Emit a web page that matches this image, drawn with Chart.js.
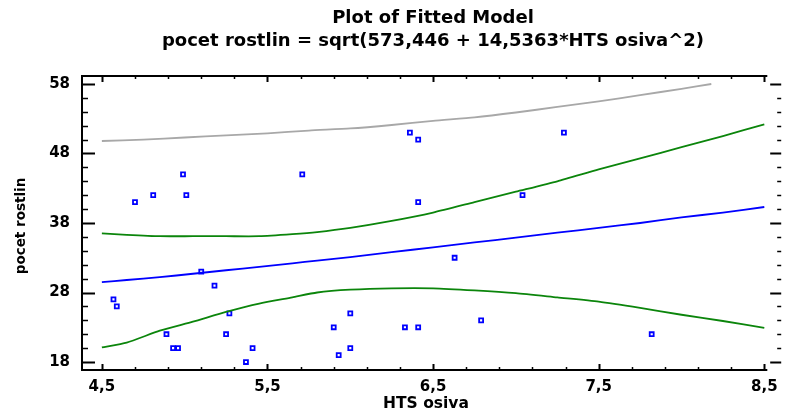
<!DOCTYPE html>
<html>
<head>
<meta charset="utf-8">
<script src="https://cdn.jsdelivr.net/npm/chart.js@4.4.1/dist/chart.umd.min.js"></script>
<style>
  html, body { margin: 0; padding: 0; background: #fff; }
  #plot { display: block; }
</style>
</head>
<body>
<canvas id="plot" width="787" height="414"></canvas>
<script>
const titleLines = ["Plot of Fitted Model", "pocet rostlin = sqrt(573,446 + 14,5363*HTS osiva^2)"];
const xLabel = "HTS osiva";
const yLabel = "pocet rostlin";

const xTicks = [4.5, 5.5, 6.5, 7.5, 8.5];
const yTicks = [18, 28, 38, 48, 58];

// observed points
const obsX = [4.70, 4.81, 4.99, 5.01, 5.71, 6.36, 6.41, 6.41, 7.29, 7.04,
              4.57, 4.59, 4.89, 4.93, 4.96, 5.10, 5.18, 5.25, 5.27, 5.37,
              5.41, 5.90, 5.93, 6.00, 6.00, 6.33, 6.41, 6.63, 6.79, 7.82];
const obsY = [41, 42, 45, 42, 45, 51, 50, 41, 51, 42,
              27, 26, 22, 20, 20, 31, 29, 22, 25, 18,
              20, 23, 19, 25, 20, 23, 23, 33, 24, 22];

// curves
const curveX = [4.5, 4.65, 4.85, 5.05, 5.25, 5.45, 5.65, 5.8, 6.0, 6.25, 6.5, 6.75, 7.0, 7.25, 7.5, 7.75, 8.0, 8.25, 8.5];
const fitY = [29.5, 29.8, 30.2, 30.7, 31.2, 31.7, 32.2, 32.6, 33.1, 33.8, 34.5, 35.2, 35.9, 36.6, 37.3, 38.0, 38.8, 39.5, 40.3];
const confUpper = [36.5, 36.3, 36.1, 36.1, 36.1, 36.1, 36.4, 36.7, 37.3, 38.3, 39.5, 41.0, 42.5, 44.0, 45.7, 47.3, 48.9, 50.5, 52.2];
const confLower = [20.1, 20.8, 22.5, 23.8, 25.2, 26.4, 27.3, 28.0, 28.4, 28.6, 28.6, 28.3, 27.9, 27.3, 26.7, 25.8, 24.8, 23.9, 22.9];
const predX = [4.5, 4.75, 5.0, 5.25, 5.5, 5.75, 6.0, 6.25, 6.5, 6.75, 7.0, 7.25, 7.5, 7.75, 8.0, 8.18];
const predUpper = [49.8, 50.0, 50.3, 50.6, 50.9, 51.3, 51.6, 52.1, 52.7, 53.2, 53.9, 54.7, 55.5, 56.4, 57.3, 58.0];

const FONT = "DejaVu Sans";

function toPoints(xs, ys) {
  return xs.map((x, i) => ({ x: x, y: ys[i] }));
}

function fmt(v) {
  return String(v).replace(".", ",");
}

function lineSet(data, color) {
  return {
    data: data,
    showLine: true,
    borderColor: color,
    borderWidth: 1.8,
    pointRadius: 0,
    tension: 0.2,
    fill: false
  };
}

const frame = {
  id: "frame",
  afterDatasetsDraw(chart) {
    const { ctx, chartArea: a, scales } = chart;
    const x = scales.x;
    const y = scales.y;
    const xEnd = x.getPixelForValue(xTicks[xTicks.length - 1]) + 3;
    ctx.save();
    ctx.strokeStyle = "#000";
    ctx.lineWidth = 2;
    ctx.beginPath();
    ctx.moveTo(a.left, a.top - 1);
    ctx.lineTo(a.left, a.bottom + 1);
    ctx.moveTo(a.left - 1, a.bottom);
    ctx.lineTo(xEnd, a.bottom);
    ctx.moveTo(a.left - 1, a.top);
    ctx.lineTo(xEnd, a.top);
    ctx.stroke();

    // x ticks, minor every 0.2
    const x0 = xTicks[0], x1 = xTicks[xTicks.length - 1];
    for (let k = 0; x0 + k * 0.2 <= x1 + 1e-9; k++) {
      const v = x0 + k * 0.2;
      const major = k % 5 === 0;
      const px = Math.round(x.getPixelForValue(v)) + 0.5;
      const len = major ? 6 : 3;
      ctx.lineWidth = major ? 2 : 1.5;
      ctx.beginPath();
      ctx.moveTo(px, a.top);
      ctx.lineTo(px, a.top + len);
      ctx.moveTo(px, a.bottom);
      ctx.lineTo(px, a.bottom - len);
      ctx.stroke();
    }

    // y ticks, minor every 2
    const y0 = yTicks[0], y1 = yTicks[yTicks.length - 1];
    for (let k = 0; y0 + k * 2 <= y1; k++) {
      const v = y0 + k * 2;
      const major = k % 5 === 0;
      const py = Math.round(y.getPixelForValue(v)) + 0.5;
      ctx.lineWidth = major ? 2 : 1.5;
      ctx.beginPath();
      ctx.moveTo(a.left, py);
      ctx.lineTo(a.left + (major ? 13 : 6), py);
      ctx.moveTo(a.right, py);
      ctx.lineTo(a.right - (major ? 11 : 4), py);
      ctx.stroke();
    }
    ctx.restore();
  },
  afterDraw(chart) {
    const ctx = chart.ctx;
    ctx.save();
    ctx.fillStyle = "#000";
    ctx.textAlign = "center";
    ctx.textBaseline = "middle";
    ctx.font = "bold 18px '" + FONT + "'";
    ctx.fillText(titleLines[0], 433, 18);
    ctx.fillText(titleLines[1], 433, 41);

    ctx.font = "bold 15.5px '" + FONT + "'";
    ctx.fillText(xLabel, 426, 404);

    ctx.translate(21, 226);
    ctx.rotate(-Math.PI / 2);
    ctx.font = "bold 13.5px '" + FONT + "'";
    ctx.fillText(yLabel, 0, 0);
    ctx.restore();
  }
};

new Chart(document.getElementById("plot"), {
  type: "scatter",
  data: {
    datasets: [
      lineSet(toPoints(predX, predUpper), "#a8a8a8"),
      lineSet(toPoints(curveX, confUpper), "#0b850b"),
      lineSet(toPoints(curveX, confLower), "#0b850b"),
      lineSet(toPoints(curveX, fitY), "#0000ff"),
      {
        data: toPoints(obsX, obsY),
        pointStyle: "rect",
        pointRadius: 2.8,
        borderWidth: 1.8,
        borderColor: "#0000ff",
        backgroundColor: "#ffffff",
        showLine: false
      }
    ]
  },
  options: {
    responsive: false,
    animation: false,
    layout: { padding: { top: 76, right: 0, left: 0, bottom: 0 } },
    plugins: {
      legend: { display: false },
      tooltip: { enabled: false },
      title: { display: false }
    },
    scales: {
      x: {
        type: "linear",
        min: 4.38,
        max: 8.602,
        afterFit(scale) { scale.height = 44; },
        afterBuildTicks(scale) { scale.ticks = xTicks.map(v => ({ value: v })); },
        grid: { display: false, drawTicks: false },
        border: { display: false },
        ticks: {
          autoSkip: false,
          maxRotation: 0,
          padding: 8,
          color: "#000",
          font: { family: FONT, size: 15, weight: "bold" },
          callback: v => fmt(v)
        }
      },
      y: {
        type: "linear",
        min: 16.85,
        max: 59.15,
        afterFit(scale) { scale.width = 82; },
        afterBuildTicks(scale) { scale.ticks = yTicks.map(v => ({ value: v })); },
        grid: { display: false, drawTicks: false },
        border: { display: false },
        ticks: {
          autoSkip: false,
          padding: 12,
          color: "#000",
          font: { family: FONT, size: 15, weight: "bold" },
          callback: v => fmt(v)
        }
      }
    }
  },
  plugins: [frame]
});
</script>
</body>
</html>
